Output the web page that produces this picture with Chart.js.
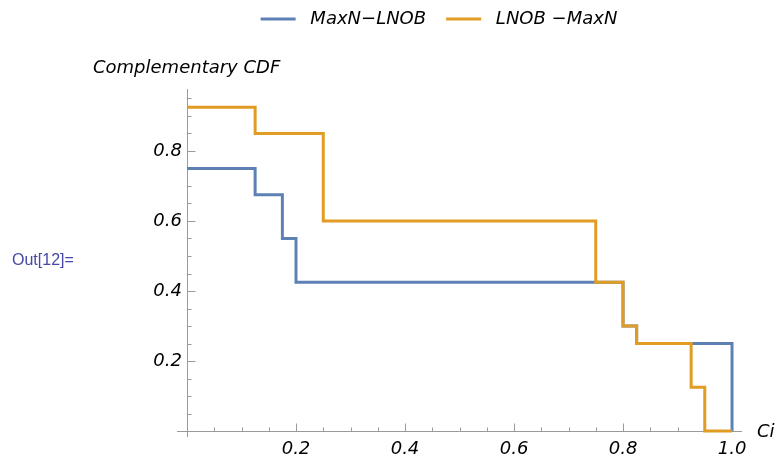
<!DOCTYPE html>
<html><head><meta charset="utf-8">
<script src="https://cdn.jsdelivr.net/npm/chart.js@4.4.1/dist/chart.umd.min.js"></script>
<style>html,body{margin:0;padding:0;background:#fff}#wrap{width:776px;height:462px;position:relative}</style>
</head><body><div id="wrap"><canvas id="c" width="776" height="462"></canvas></div>
<script>
// ---- data ----
const seriesNames = ['MaxN\u2212LNOB', 'LNOB \u2212MaxN'];
const maxnX = [0, 0.125, 0.175, 0.2, 0.8, 0.825, 1.0];
const maxnY = [0.75, 0.675, 0.55, 0.425, 0.3, 0.25, 0];
const lnobX = [0, 0.125, 0.25, 0.75, 0.8, 0.825, 0.925, 0.95, 1.0];
const lnobY = [0.925, 0.85, 0.6, 0.425, 0.3, 0.25, 0.125, 0, 0];
const xMajorTicks = [0.2, 0.4, 0.6, 0.8, 1.0];
const yMajorTicks = [0.2, 0.4, 0.6, 0.8];
const xMinorTicks = [0.05, 0.1, 0.15, 0.2, 0.25, 0.3, 0.35, 0.4, 0.45, 0.5, 0.55, 0.6, 0.65, 0.7, 0.75, 0.8, 0.85, 0.9, 0.95, 1.0];
const yMinorTicks = [0.05, 0.1, 0.15, 0.2, 0.25, 0.3, 0.35, 0.4, 0.45, 0.5, 0.55, 0.6, 0.65, 0.7, 0.75, 0.8, 0.85, 0.9, 0.95];
const xAxisLabel = 'Ci';
const yAxisLabel = 'Complementary CDF';
const outLabel = 'Out[12]=';

const BLUE = '#5E81B5', ORANGE = '#E19C24', AXIS = '#9a9a9a';
const FONT = 'DejaVu Sans';
const tickFont = {family: FONT, size: 18, style: 'italic'};
const X_AXIS_START = -0.0183;  // where the drawn x-axis line begins
const Y_AXIS_START = -0.017;

const axesPlugin = {
  id: 'mmaAxes',
  beforeDatasetsDraw(chart) {
    const {ctx, scales: {x, y}} = chart;
    const x0 = Math.round(x.getPixelForValue(0)) + 0.5;
    const y0 = Math.round(y.getPixelForValue(0)) + 0.5;
    ctx.save();
    ctx.strokeStyle = AXIS; ctx.lineWidth = 1;
    ctx.beginPath();
    ctx.moveTo(x.getPixelForValue(X_AXIS_START), y0); ctx.lineTo(x.right, y0);
    ctx.moveTo(x0, y.getPixelForValue(Y_AXIS_START)); ctx.lineTo(x0, y.top);
    xMinorTicks.forEach(v => {
      const px = Math.round(x.getPixelForValue(v)) + 0.5;
      const len = xMajorTicks.includes(v) ? 8 : 4;
      ctx.moveTo(px, y0); ctx.lineTo(px, y0 - len);
    });
    yMinorTicks.forEach(v => {
      const py = Math.round(y.getPixelForValue(v)) + 0.5;
      const len = yMajorTicks.includes(v) ? 8 : 4;
      ctx.moveTo(x0, py); ctx.lineTo(x0 + len, py);
    });
    ctx.stroke();
    ctx.restore();
  },
  afterDraw(chart) {
    const {ctx, scales: {x, y}} = chart;
    ctx.save();
    ctx.fillStyle = '#000';
    ctx.textBaseline = 'middle';
    ctx.textAlign = 'left';
    ctx.font = 'italic 18px "' + FONT + '"';
    ctx.fillText(yAxisLabel, 93, y.top - 21);
    ctx.fillText(xAxisLabel, x.right + 15, y.getPixelForValue(0) + 1);
    ctx.font = '16px "Liberation Sans"';
    ctx.fillStyle = '#4747a6';
    ctx.fillText(outLabel, 12, 261);
    ctx.restore();
  }
};

const defaultLabels = Chart.defaults.plugins.legend.labels.generateLabels;

new Chart(document.getElementById('c'), {
  type: 'line',
  data: {
    datasets: [
      {label: seriesNames[0], data: maxnX.map((v, i) => ({x: v, y: maxnY[i]})),
       borderColor: BLUE, backgroundColor: BLUE, borderWidth: 3, stepped: 'before',
       pointRadius: 0, fill: false, order: 1, xAxisID: 'x', yAxisID: 'y'},
      {label: seriesNames[1], data: lnobX.map((v, i) => ({x: v, y: lnobY[i]})),
       borderColor: ORANGE, backgroundColor: ORANGE, borderWidth: 3, stepped: 'before',
       pointRadius: 0, fill: false, order: 0, xAxisID: 'x', yAxisID: 'y'}
    ]
  },
  options: {
    responsive: false,
    animation: false,
    layout: {padding: {left: 136, right: 34, top: -10, bottom: 0}},
    plugins: {
      legend: {
        position: 'top',
        labels: {usePointStyle: true, pointStyle: 'line', pointStyleWidth: 35, padding: 20,
                 sort: (a, b) => a.datasetIndex - b.datasetIndex,
                 generateLabels: chart => defaultLabels(chart).map(l => Object.assign(l, {text: ' ' + l.text})),
                 color: '#000', font: {family: FONT, size: 18, style: 'italic'}}
      },
      tooltip: {enabled: false}
    },
    scales: {
      x: {
        type: 'linear', position: 'bottom', min: -0.0055, max: 1.0183,
        afterBuildTicks: s => { s.ticks = xMajorTicks.map(v => ({value: v})); },
        afterFit: s => { s.height = 25; },
        grid: {display: false, drawTicks: false}, border: {display: false},
        ticks: {padding: 2, color: '#000', font: tickFont, maxRotation: 0, autoSkip: false,
                callback: v => v.toFixed(1)}
      },
      y: {
        type: 'linear', position: 'left', min: Y_AXIS_START, max: 0.977,
        afterBuildTicks: s => { s.ticks = yMajorTicks.map(v => ({value: v})); },
        afterFit: s => { s.width = 48; },
        grid: {display: false, drawTicks: false}, border: {display: false},
        ticks: {padding: 2, color: '#000', font: tickFont, autoSkip: false,
                callback: v => v.toFixed(1)}
      },
      xTop: {
        type: 'linear', position: 'top', display: true,
        afterFit: s => { s.height = 51; },
        grid: {display: false, drawTicks: false}, border: {display: false},
        ticks: {display: false}
      }
    }
  },
  plugins: [axesPlugin]
});
</script>
</body></html>
